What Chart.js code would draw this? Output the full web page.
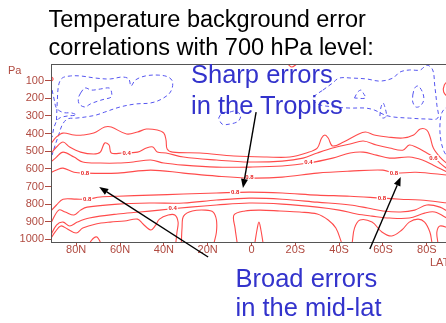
<!DOCTYPE html>
<html>
<head>
<meta charset="utf-8">
<script src="https://cdn.jsdelivr.net/npm/chart.js"></script>
<style>
  html, body { margin: 0; padding: 0; background: #fff; overflow: hidden; }
  #wrap { position: relative; width: 446px; height: 323px; overflow: hidden; }
  canvas { position: absolute; left: 0; top: 0; }
  .txt { position: absolute; white-space: nowrap; font-family: "Liberation Sans", Arial, sans-serif; }
  #title { left: 48.5px; top: 5px; font-size: 23.5px; line-height: 28px; color: #000; }
  .blue { color: #3333cc; font-size: 25.5px; }
  #sharp { left: 191px; top: 58.7px; line-height: 31.5px; }
  #broad { left: 235.5px; top: 263.7px; line-height: 29px; }
  .axis { color: #b04a40; font-size: 11px; line-height: 11px; }
  #lat { left: 430px; top: 257px; }
  #pa { left: 8px; top: 65px; }
</style>
</head>
<body>
<div id="wrap">
  <canvas id="chart" width="460" height="323"></canvas>
  <div id="title" class="txt">Temperature background error<br>correlations with 700 hPa level:</div>
  <div id="sharp" class="txt blue">Sharp errors<br>in the Tropics</div>
  <div id="broad" class="txt blue">Broad errors<br>in the mid-lat</div>
  <div id="lat" class="txt axis">LAT</div>
  <div id="pa" class="txt axis">Pa</div>
</div>
<script>
// latitude: negative = N, positive = S ; pressure in hPa
const latTicks = [-80, -60, -40, -20, 0, 20, 40, 60, 80];
const presTicks = [100, 200, 300, 400, 500, 600, 700, 800, 900, 1000];

// positive correlation contours (solid red), [lat, hPa]
const redA = [[-92,465],[-89,419],[-86,397],[-81,408],[-77,408],[-72,397],[-67,363],[-64,363],[-57,402],[-52,391],[-48,374],[-43,380],[-40,397],[-39,437],[-38.5,487],[-36,505],[-23.5,510],[-8,527],[7,533],[17.5,533],[25,510],[30,482],[32,425],[33.5,408],[35,425],[37,470],[42,448],[48,408],[52,391],[56,408],[62,419],[69,425],[74,408],[77,374],[80,380],[81.5,419],[83,482],[86,533],[90,579]];
const redB = [[-92,522],[-89,476],[-86,448],[-83,476],[-78,505],[-72,516],[-69,505],[-67,453],[-65,465],[-64,510],[-59,510],[-52,505],[-48,482],[-45,476],[-43,505],[-39,510],[-31,533],[-16,550],[-1,561],[14,556],[23.5,539],[30,510],[37,482],[45,459],[51,442],[57,465],[63,482],[69,494],[72,465],[75,476],[80,510],[83,533],[86,567],[90,607]];
const redC = [[-92,567],[-89,533],[-86,505],[-81,533],[-77,561],[-69,567],[-61,567],[-54,561],[-46,550],[-40,567],[-31,579],[-16,590],[-1,590],[14,584],[26,567],[37,539],[45,510],[51,505],[57,522],[63,539],[72,533],[78,550],[83,579],[90,624]];
const redD = [[-92,624],[-89,607],[-86,596],[-81,619],[-77,624],[-61,624],[-46,607],[-31,624],[-16,641],[-1,652],[14,647],[30,624],[45,613],[60,607],[65,624],[75,619],[90,636]];
const redE = [[-92,845],[-89,805],[-86,772],[-80,772],[-75,772],[-69,760],[-61,755],[-46,749],[-31,743],[-16,737],[-1,732],[14,737],[30,749],[45,755],[59.5,766],[68,772],[77,777],[90,794]];
const redF = [[-92,919],[-88,834],[-85,845],[-81,862],[-78,834],[-75,817],[-61,800],[-46,794],[-31,794],[-16,777],[-1,766],[14,772],[30,789],[45,805],[53,822],[60,839],[68,845],[74.5,834],[80,805],[86,817],[90,845]];
const redG = [[-92,987],[-89,919],[-86,902],[-83,924],[-79.5,902],[-74,879],[-61,856],[-51,845],[-42,834],[-28,817],[-16,805],[-1,794],[14,800],[30,817],[40,834],[48,856],[55,868],[63,879],[72,879],[79,851],[83.6,845],[90,885]];
const redH = [[-92,1004],[-89.6,958],[-87,924],[-84,941],[-80,964],[-77,936],[-71,913],[-64.5,902],[-58,896],[-52,885],[-49.5,913],[-46,947],[-44,924],[-42,885],[-38,862],[-35,862],[-33.5,902],[-34,958],[-34.5,1015]];
const redBump = [[-73.6,1015],[-72,992],[-70.5,987],[-69,1015]];
const redF1 = [[-32,1015],[-31.7,936],[-31,868],[-27,839],[-21,834],[-17.5,845],[-16,890],[-16,958],[-17,1015]];
const redF2 = [[-6.6,1015],[-7.5,936],[-8,862],[-3,839],[4,834],[13,839],[22,845],[30,856],[35,890],[38.5,936],[41,1015]];
const redSpike = [[1.6,1015],[2.5,947],[3.4,902],[4.3,947],[5.2,1015]];
const redF3 = [[46,1015],[47,936],[49.5,890],[55,902],[59.5,958],[64,981],[68.6,947],[72,902],[76,885],[79,902],[81.4,958],[82.3,1015]];
const redF4 = [[85,1015],[84.6,958],[86,924],[90,936]];
const redTopR = [[90,96],[88,124],[87.7,164],[90,198]];
const redTopM = [[16.6,5],[18.4,22],[20.7,5]];
const redTopL = [[-92,70],[-90.5,90],[-92,110]];

// negative correlation contours (dashed blue)
const blueA = [[-89,323],[-88.6,209],[-88,124],[-86.4,85],[-82.7,73],[-78,73],[-71,85],[-64.5,90],[-59,79],[-56,90],[-55,130],[-53,96],[-48.5,73],[-42.6,68],[-38,79],[-36,107],[-37,164],[-41,204],[-46,226],[-53,232],[-60,249],[-67,278],[-71,295],[-76,306],[-80,312],[-84,317],[-86.4,351],[-88,408],[-89.6,465],[-91,522]];
const blueB = [[-78,170],[-76,141],[-73,153],[-69,147],[-65,141],[-64,158],[-64,192],[-67,204],[-70,215],[-73.6,232],[-76,249],[-78.6,232],[-79,198],[-78,170]];
const blueC = [[-91,153],[-90,209],[-89,255],[-86,280],[-82,283],[-80,295],[-84,300],[-88,315],[-90,360],[-91,420]];
const blueD = [[-15,312],[-13.4,283],[-10,278],[-7.5,272],[-5,295],[-6,329],[-10,346],[-13.4,346],[-15,312]];
const blueE = [[32.6,153],[37,113],[40,85],[46,85],[52.6,90],[58.6,102],[64.5,85],[67.7,51],[72,39],[77,39],[80,11],[82.7,39],[83.6,124],[84.6,238],[85,312],[80,317],[72,312],[65,306],[61,295],[56,266],[52,255],[45,255],[38,249],[30,232],[28,198],[30,175],[32.6,153]];
const blueF = [[47,198],[48.5,164],[50,153],[51,170],[52,198],[47,198]];
const blueG = [[73.6,181],[74.5,141],[76,130],[78,164],[78.6,209],[77,243],[75,249],[73.6,221],[73.6,181]];
const blueH = [[58.6,300],[59,255],[60,226],[61,255],[61.5,300],[60,312],[58.6,300]];
const blueI = [[90,238],[87,278],[86,351],[86.4,437],[88,505],[90,539]];

// contour labels [lat, hPa, text]
const labelPos = [[-57,510,"0.4"],[-76,624,"0.8"],[26,561,"0.4"],[83,539,"0.6"],[-1,647,"0.8"],[65,624,"0.8"],[-7.5,732,"0.8"],[-75,772,"0.8"],[59.5,766,"0.8"],[-36,822,"0.4"]];

// annotation arrows [tailLat, tailHPa, headLat, headHPa]
const arrows = [[-19.8,1100,-69.5,703],[2.1,278,-3.9,709],[54,1055,68.1,646]];

const redLines = [redA, redB, redC, redD, redE, redF, redG, redH, redBump, redF1, redF2, redSpike, redF3, redF4, redTopR, redTopM, redTopL];
const blueLines = [blueA, blueB, blueC, blueD, blueE, blueF, blueG, blueH, blueI];

const tickColor = "#b04a40";

function toXY(pts) {
    return pts.map(function (p) { return { x: p[0], y: p[1] }; });
}

var datasets = [];
redLines.forEach(function (pts) {
    datasets.push({
        data: toXY(pts),
        showLine: true,
        borderColor: "rgb(255,75,75)",
        borderWidth: 1.1,
        pointRadius: 0,
        tension: 0.35,
        fill: false,
    });
});
blueLines.forEach(function (pts) {
    datasets.push({
        data: toXY(pts),
        showLine: true,
        borderColor: "rgb(85,85,240)",
        borderWidth: 1,
        borderDash: [4, 3],
        pointRadius: 0,
        tension: 0.35,
        fill: false,
    });
});

const extras = {
    id: "extras",
    afterDatasetsDraw: function (chart) {
        const ctx = chart.ctx;
        const xs = chart.scales.x, ys = chart.scales.y;
        ctx.save();
        ctx.font = "bold 6px 'Liberation Sans', Arial, sans-serif";
        ctx.textAlign = "center";
        ctx.textBaseline = "middle";
        labelPos.forEach(function (l) {
            const px = xs.getPixelForValue(l[0]);
            const py = ys.getPixelForValue(l[1]);
            const w = ctx.measureText(l[2]).width + 2;
            ctx.fillStyle = "#fff";
            ctx.fillRect(px - w / 2, py - 3, w, 6);
            ctx.fillStyle = "rgb(230,30,30)";
            ctx.fillText(l[2], px, py);
        });
        ctx.restore();
    },
    afterDraw: function (chart) {
        const ctx = chart.ctx;
        const a = chart.chartArea;
        const xs = chart.scales.x, ys = chart.scales.y;
        ctx.save();
        ctx.strokeStyle = "#555";
        ctx.lineWidth = 1;
        ctx.strokeRect(a.left + 0.5, a.top + 0.5, a.right - a.left, a.bottom - a.top);

        ctx.strokeStyle = "#000";
        ctx.fillStyle = "#000";
        ctx.lineWidth = 1.4;
        arrows.forEach(function (ar) {
            const x1 = xs.getPixelForValue(ar[0]), y1 = ys.getPixelForValue(ar[1]);
            const x2 = xs.getPixelForValue(ar[2]), y2 = ys.getPixelForValue(ar[3]);
            const ang = Math.atan2(y2 - y1, x2 - x1);
            const len = 9, hw = 3.5;
            const bx = x2 - Math.cos(ang) * len, by = y2 - Math.sin(ang) * len;
            ctx.beginPath();
            ctx.moveTo(x1, y1);
            ctx.lineTo(bx, by);
            ctx.stroke();
            ctx.beginPath();
            ctx.moveTo(x2, y2);
            ctx.lineTo(bx + Math.sin(ang) * hw, by - Math.cos(ang) * hw);
            ctx.lineTo(bx - Math.sin(ang) * hw, by + Math.cos(ang) * hw);
            ctx.closePath();
            ctx.fill();
        });
        ctx.restore();
    },
};

var chart = new Chart(document.getElementById("chart").getContext("2d"), {
    type: "scatter",
    data: { datasets: datasets },
    plugins: [extras],
    options: {
        responsive: false,
        animation: false,
        devicePixelRatio: 1,
        layout: { padding: { top: 64, right: 8, left: 0, bottom: 0 } },
        plugins: { legend: { display: false }, tooltip: { enabled: false } },
        scales: {
            x: {
                type: "linear",
                min: -91.5,
                max: 91.5,
                afterBuildTicks: function (scale) {
                    scale.ticks = latTicks.map(function (v) { return { value: v }; });
                },
                afterFit: function (scale) { scale.height = 81; },
                ticks: {
                    color: tickColor,
                    font: { family: "'Liberation Sans', Arial, sans-serif", size: 11 },
                    padding: -3,
                    maxRotation: 0,
                    autoSkip: false,
                    callback: function (v) {
                        if (v < 0) return (-v) + "N";
                        if (v > 0) return v + "S";
                        return "0";
                    },
                },
                grid: { drawOnChartArea: false, tickLength: 4, tickColor: tickColor },
                border: { display: false },
            },
            y: {
                type: "linear",
                reverse: true,
                min: 5,
                max: 1015,
                afterBuildTicks: function (scale) {
                    scale.ticks = presTicks.map(function (v) { return { value: v }; });
                },
                afterFit: function (scale) { scale.width = 51; },
                ticks: {
                    color: tickColor,
                    font: { family: "'Liberation Sans', Arial, sans-serif", size: 11 },
                    padding: 1,
                    callback: function (v) { return String(v); },
                },
                grid: { drawOnChartArea: false, tickLength: 6, tickColor: tickColor },
                border: { display: false },
            },
        },
    },
});
</script>
</body>
</html>
